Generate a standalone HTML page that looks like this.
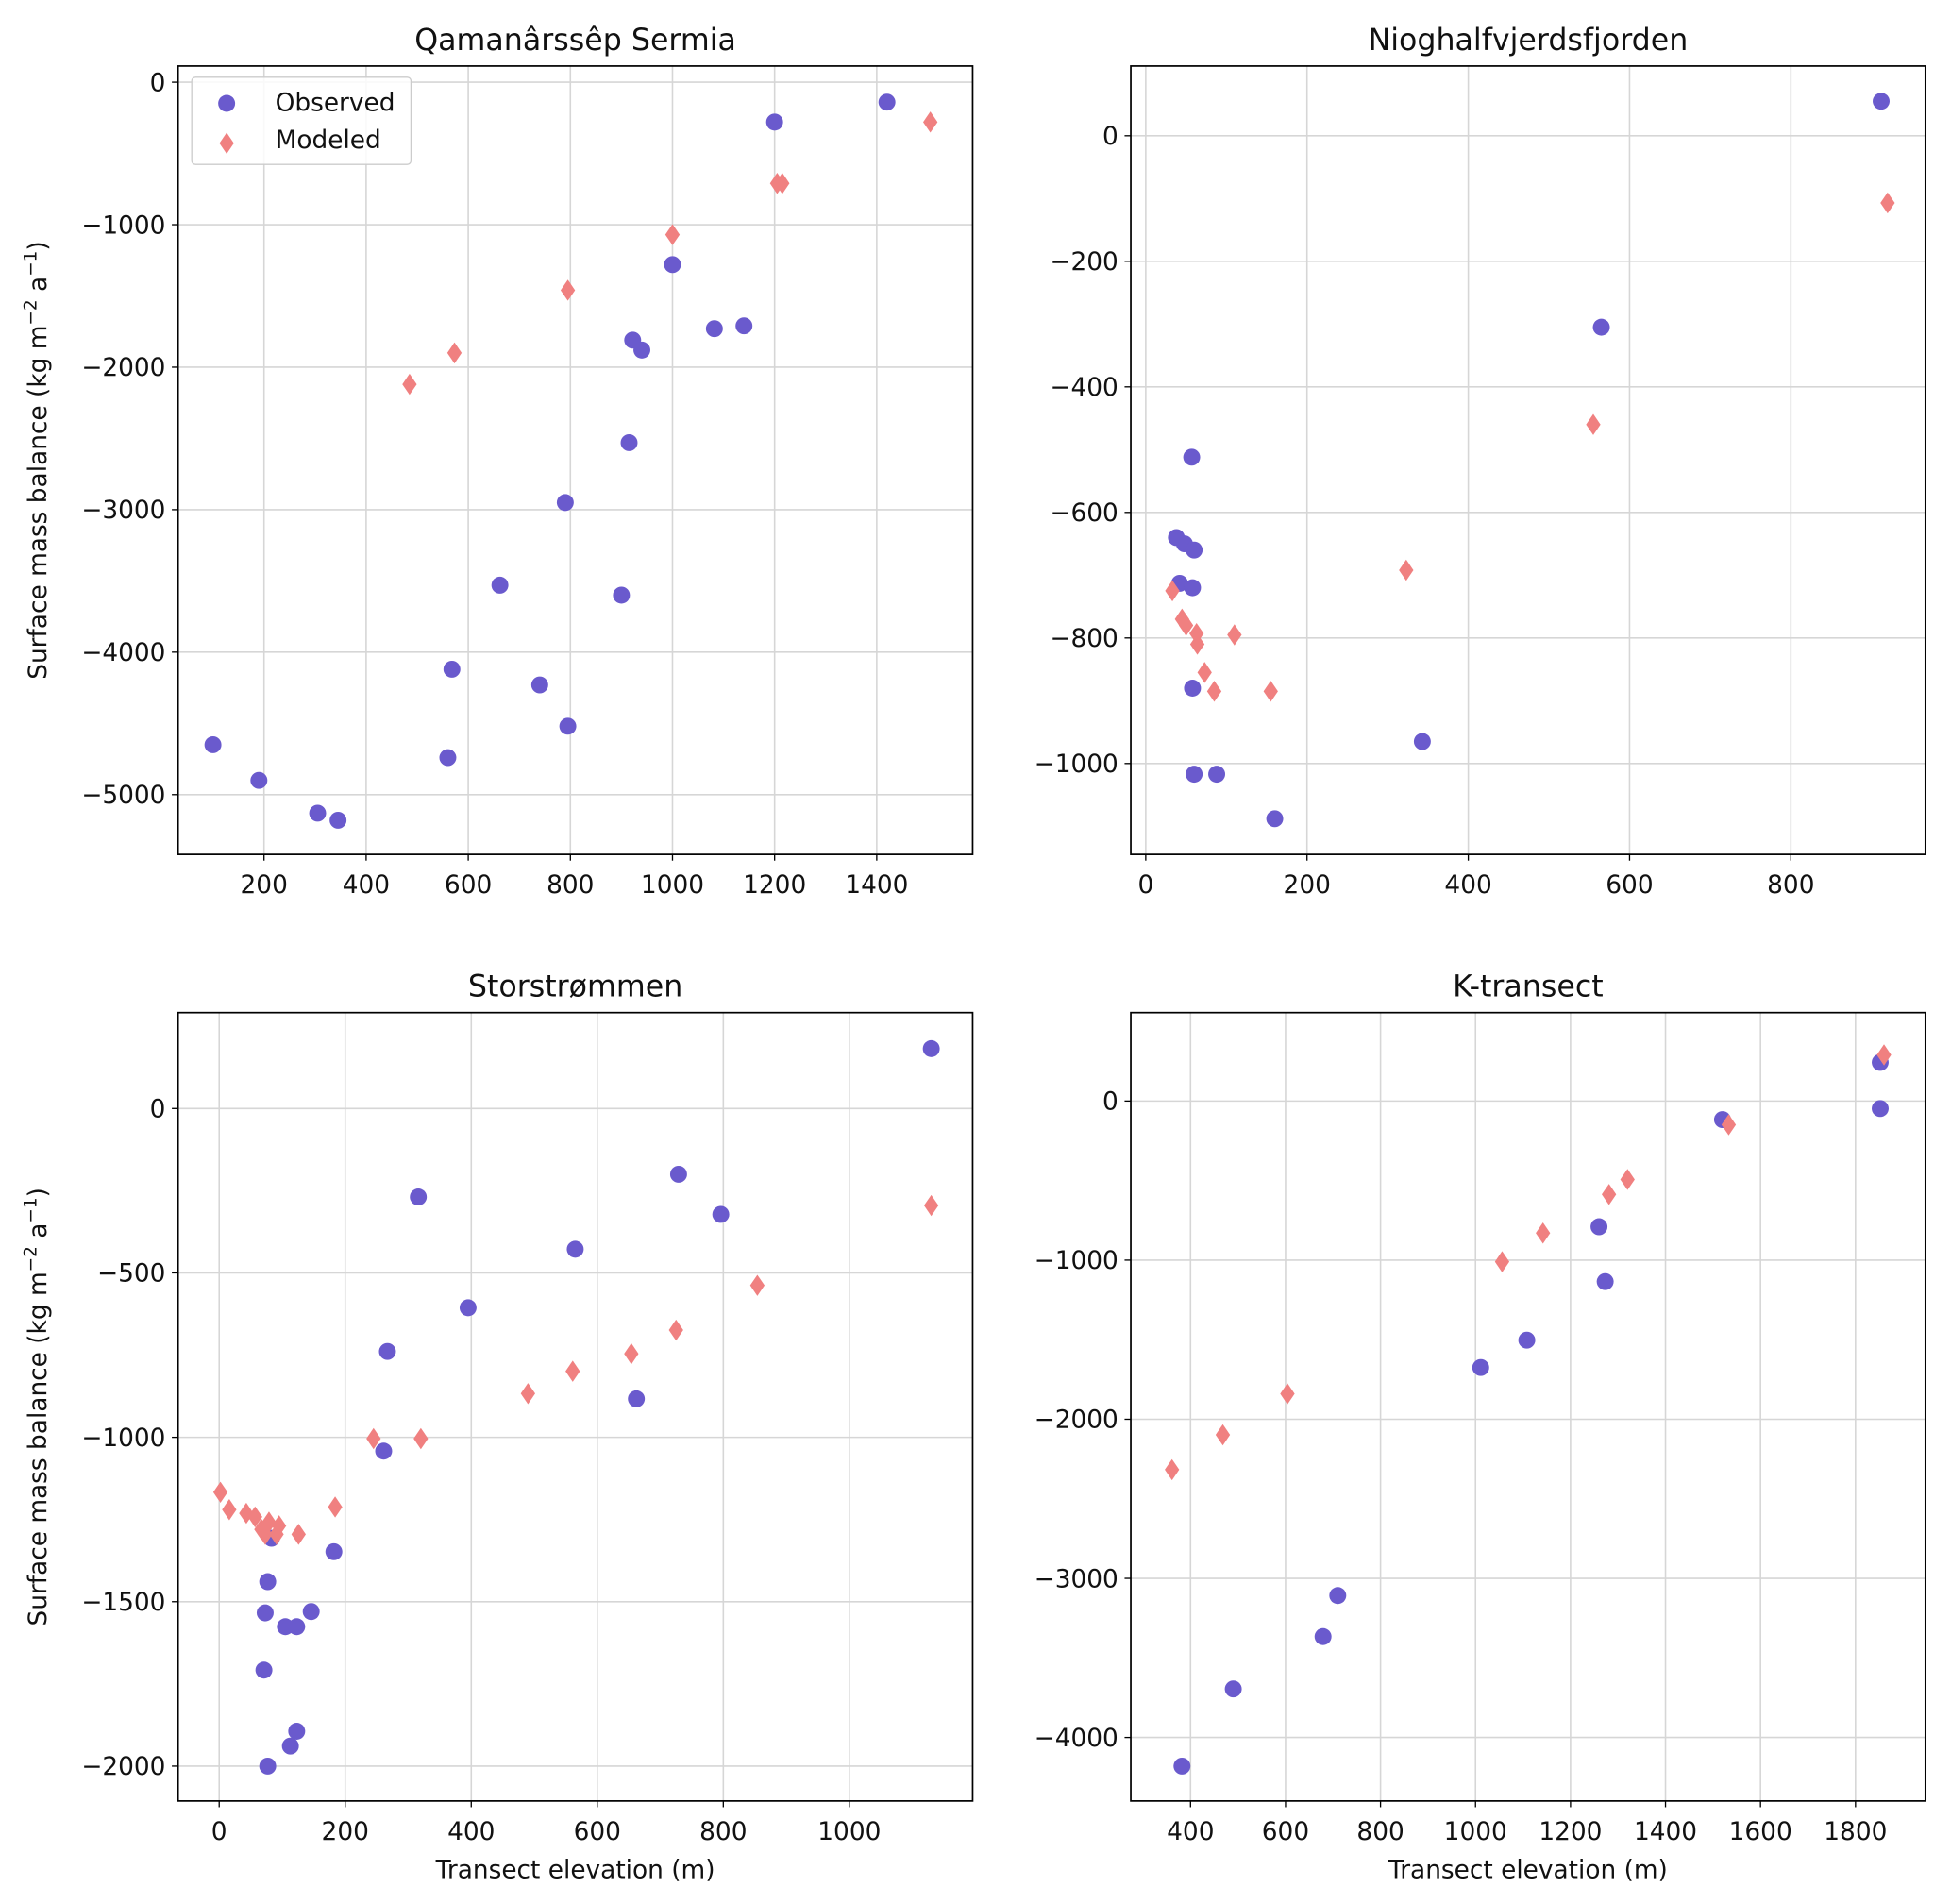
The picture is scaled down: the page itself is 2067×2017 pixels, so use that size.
<!DOCTYPE html>
<html><head><meta charset="utf-8">
<style>
html,body{margin:0;padding:0;background:#fff;}
svg{display:block;font-family:"DejaVu Sans","Liberation Sans",sans-serif;}
</style></head>
<body>
<svg id="fig" width="2067" height="2017" viewBox="0 0 1566.6 1528.7" preserveAspectRatio="none" xmlns="http://www.w3.org/2000/svg"></svg>
<script>
// ---- Data ----
const qsObsX = [100,190,305,345,560,568,662,740,790,795,900,915,922,940,1000,1082,1140,1200,1420];
const qsObsY = [-4650,-4900,-5130,-5180,-4740,-4120,-3530,-4230,-2950,-4520,-3600,-2530,-1810,-1880,-1280,-1730,-1710,-280,-140];
const qsModX = [485,573,795,1000,1205,1215,1505];
const qsModY = [-2120,-1900,-1460,-1070,-710,-710,-280];

const nfObsX = [57,38,48,60,42,58,58,60,88,160,343,565,912];
const nfObsY = [-512,-640,-650,-660,-713,-720,-880,-1017,-1017,-1088,-965,-305,55];
const nfModX = [33,45,50,63,64,73,85,110,155,323,555,920];
const nfModY = [-725,-770,-780,-793,-810,-855,-885,-795,-885,-692,-460,-107];

const ssObsX = [1130,729,796,316,565,395,267,662,261,182,83,77,73,105,123,146,71,123,113,77];
const ssObsY = [182,-200,-322,-269,-428,-606,-739,-883,-1042,-1348,-1307,-1439,-1534,-1576,-1576,-1530,-1708,-1894,-1939,-2000];
const ssModX = [1130,854,725,654,561,490,320,245,184,126,95,91,79,67,57,43,16,2,73];
const ssModY = [-295,-538,-674,-746,-799,-867,-1004,-1004,-1212,-1295,-1269,-1295,-1258,-1280,-1242,-1231,-1220,-1167,-1295];

const ktObsX = [1852,1852,1520,1260,1273,1108,1011,710,679,490,382];
const ktObsY = [243,-47,-117,-790,-1135,-1503,-1675,-3108,-3366,-3695,-4180];
const ktModX = [1860,1533,1320,1281,1142,1056,604,468,361];
const ktModY = [290,-149,-493,-587,-830,-1010,-1840,-2098,-2317];

const qsXTicks = [200,400,600,800,1000,1200,1400];
const qsYTicks = [0,-1000,-2000,-3000,-4000,-5000];
const nfXTicks = [0,200,400,600,800];
const nfYTicks = [0,-200,-400,-600,-800,-1000];
const ssXTicks = [0,200,400,600,800,1000];
const ssYTicks = [0,-500,-1000,-1500,-2000];
const ktXTicks = [400,600,800,1000,1200,1400,1600,1800];
const ktYTicks = [0,-1000,-2000,-3000,-4000];

// ---- Drawing ----
const NS = "http://www.w3.org/2000/svg";
const svg = document.getElementById("fig");
function mk(tag, attrs, parent){
  const e = document.createElementNS(NS, tag);
  for (const k in attrs) e.setAttribute(k, attrs[k]);
  (parent||svg).appendChild(e);
  return e;
}
function fmt(v){ return v < 0 ? "\u2212" + Math.abs(v) : String(v); }

function panel(cfg){
  const g = mk("g", {});
  
  
  const L=cfg.left, R=cfg.left+638, T=cfg.top, B=cfg.top+633;
  const sx = v => cfg.x0px + (v - cfg.xa) * cfg.xk;
  const sy = v => cfg.y0px - (v - cfg.ya) * cfg.yk;
  cfg.xt.forEach(t => {
    const x = sx(t);
    const gl = mk("line",{x1:x,x2:x,y1:T,y2:B,stroke:"#d6d6d6","stroke-width":1.2},g);
    
    
    mk("line",{x1:x,x2:x,y1:B,y2:B+5,stroke:"#000","stroke-width":1},g);
    const tx = mk("text",{x:x,y:B+31,"font-size":20,"text-anchor":"middle",fill:"#111"},g);
    tx.textContent = fmt(t);
    
    
  });
  cfg.yt.forEach(t => {
    const y = sy(t);
    const gl = mk("line",{x1:L,x2:R,y1:y,y2:y,stroke:"#d6d6d6","stroke-width":1.2},g);
    
    
    mk("line",{x1:L-5,x2:L,y1:y,y2:y,stroke:"#000","stroke-width":1},g);
    const tx = mk("text",{x:L-10,y:y+7,"font-size":20,"text-anchor":"end",fill:"#111"},g);
    tx.textContent = fmt(t);
    
    
  });
  cfg.ox.forEach((v,i) => {
    const c = mk("circle",{cx:sx(v),cy:sy(cfg.oy[i]),r:6.8,fill:"#6a5acd"},g);
    
    
  });
  cfg.mx.forEach((v,i) => {
    const x=sx(v), y=sy(cfg.my[i]);
    const p = mk("path",{d:`M${x} ${y-8.5}L${x+5.8} ${y}L${x} ${y+8.5}L${x-5.8} ${y}Z`,fill:"#f08080"},g);
    
    
  });
  const fr = mk("rect",{x:L,y:T,width:638,height:633,fill:"none",stroke:"#000","stroke-width":1.3},g);
  
  
  const ti = mk("text",{x:(L+R)/2,y:T-13,"font-size":24,"text-anchor":"middle",fill:"#111"},g);
  ti.textContent = cfg.title;
  
  
  if (cfg.ylabel){
    const yl = mk("text",{x:0,y:0,"font-size":20,"text-anchor":"middle",fill:"#111",transform:`translate(37,${(T+B)/2}) rotate(-90)`},g);
    yl.innerHTML = 'Surface mass balance (kg m<tspan dy="-8" font-size="14">\u22122</tspan><tspan dy="8"> a</tspan><tspan dy="-8" font-size="14">\u22121</tspan><tspan dy="8">)</tspan>';
    
    
  }
  if (cfg.xlabel){
    const xl = mk("text",{x:(L+R)/2,y:B+62,"font-size":20,"text-anchor":"middle",fill:"#111"},g);
    xl.textContent = "Transect elevation (m)";
    
    
  }
  return g;
}

panel({name:"panel-qamanarssep-sermia",title:"Qamanârssêp Sermia",left:143,top:53,
  xa:0,x0px:130,xk:0.41,ya:0,y0px:66,yk:0.1144,xt:qsXTicks,yt:qsYTicks,
  ox:qsObsX,oy:qsObsY,mx:qsModX,my:qsModY,ylabel:true});
panel({name:"panel-nioghalfvjerdsfjorden",title:"Nioghalfvjerdsfjorden",left:908,top:53,
  xa:0,x0px:920,xk:0.6475,ya:0,y0px:109,yk:0.504,xt:nfXTicks,yt:nfYTicks,
  ox:nfObsX,oy:nfObsY,mx:nfModX,my:nfModY});
panel({name:"panel-storstrommen",title:"Storstrømmen",left:143,top:813,
  xa:0,x0px:176,xk:0.506,ya:0,y0px:890,yk:0.264,xt:ssXTicks,yt:ssYTicks,
  ox:ssObsX,oy:ssObsY,mx:ssModX,my:ssModY,ylabel:true,xlabel:true});
panel({name:"panel-k-transect",title:"K-transect",left:908,top:813,
  xa:0,x0px:803.4,xk:0.3814,ya:0,y0px:884,yk:0.12775,xt:ktXTicks,yt:ktYTicks,
  ox:ktObsX,oy:ktObsY,mx:ktModX,my:ktModY,xlabel:true});

const lg = mk("g",{});


mk("rect",{x:154,y:62,width:176,height:70,rx:3,fill:"#fff","fill-opacity":0.85,stroke:"#ccc","stroke-width":1},lg);
mk("circle",{cx:182,cy:83,r:6.8,fill:"#6a5acd"},lg);
mk("path",{d:"M182 106.5L187.8 115L182 123.5L176.2 115Z",fill:"#f08080"},lg);
const t1 = mk("text",{x:221,y:89,"font-size":20,fill:"#111"},lg); t1.textContent="Observed";


const t2 = mk("text",{x:221,y:119,"font-size":20,fill:"#111"},lg); t2.textContent="Modeled";


</script>
</body></html>
